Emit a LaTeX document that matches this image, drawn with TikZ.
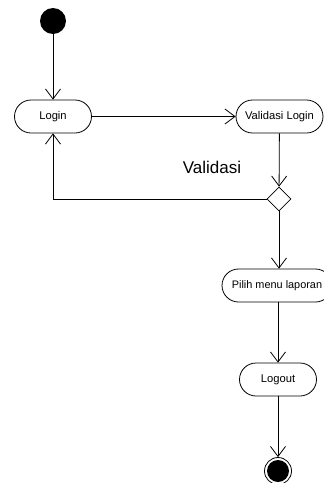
\documentclass[tikz,border=0pt]{standalone}
\usepackage{fontspec}
\setmainfont{Liberation Sans}
\usetikzlibrary{shapes.geometric}
\usetikzlibrary{arrows.meta}

\begin{document}
\begin{tikzpicture}[x=1pt,y=-1pt,line width=0.8pt,
		>={Straight Barb[length=10pt,width=15pt,line width=0.8pt]},
		activity/.style={draw,rectangle,rounded corners=16.5pt,minimum height=33pt,inner xsep=4pt,font=\fontsize{11.2}{13}\selectfont},
		initial/.style={circle,fill=black,minimum size=26pt,inner sep=0pt},
		final/.style={circle,draw,minimum size=27pt,inner sep=0pt,path picture={\fill (path picture bounding box.center) circle (11pt);}},
		decision/.style={diamond,draw,minimum size=24pt,inner sep=0pt}]
		\useasboundingbox (0,0) rectangle (324,483);
		\node[initial] (start) at (53,21) {};
		\node[activity,minimum width=77pt] (login) at (53,116.5) {Login};
		\node[activity,minimum width=87pt] (validasi) at (279.5,116.5) {Validasi Login};
		\node[decision] (cek) at (279,199) {};
		\node[font=\fontsize{17}{20}\selectfont] (label) at (212,167) {Validasi};
		\node[activity,minimum width=110pt,font=\fontsize{10.9}{13}\selectfont] (pilih) at (277,285.5) {Pilih menu laporan};
		\node[activity,minimum width=77pt] (logout) at (278,379.5) {Logout};
		\node[final] (end) at (278,471) {};
		\draw[->] (start) -- (login);
		\draw[->] (login) -- (validasi);
		\draw[->] (validasi) -- (cek);
		\draw[->] (cek.west) -| (login.south);
		\draw[->] (cek) -- (cek |- pilih.north);
		\draw[->] (pilih.south -| logout) -- (logout);
		\draw[->] (logout) -- (end);
\end{tikzpicture}
\end{document}
